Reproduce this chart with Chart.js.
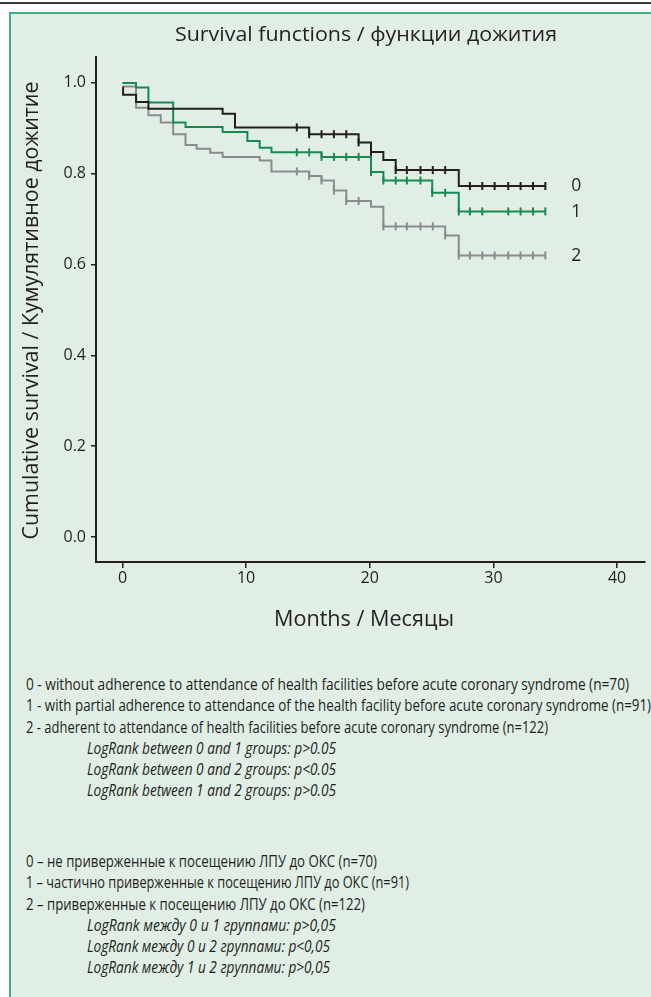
<!DOCTYPE html>
<html>
<head>
<meta charset="utf-8">
<script src="https://cdn.jsdelivr.net/npm/chart.js@4.4.1/dist/chart.umd.min.js"></script>
<style>
  html, body { margin: 0; padding: 0; background: #fff; width: 651px; height: 997px; overflow: hidden; }
  #rule { position: absolute; left: 0; top: 2px; width: 651px; height: 2px; background: #3a3a3a; }
  #panel { position: absolute; left: 9px; top: 12px; width: 670px; height: 1000px; box-sizing: border-box;
           border: 2px solid #41ae7d; background: #e1eee6; }
  #wrap { position: absolute; left: 0; top: 0; width: 651px; height: 640px; }
  .notes { position: absolute; left: 26px; font-family: 'Open Sans'; font-size: 16px; line-height: 21.3px;
           color: #231f20; white-space: nowrap; }
  .notes span { display: inline-block; transform-origin: 0 50%; }
  .notes .i { font-style: italic; padding-left: 61px; }
</style>
</head>
<body>
<div id="rule"></div>
<div id="panel"></div>
<div id="wrap"><canvas id="km" width="651" height="640"></canvas></div>

<div class="notes" style="top:674px">
  <div data-w="603"><span>0 - without adherence to attendance of health facilities before acute coronary syndrome (n=70)</span></div>
  <div data-w="625"><span>1 - with partial adherence to attendance of the health facility before acute coronary syndrome (n=91)</span></div>
  <div data-w="522"><span>2 - adherent to attendance of health facilities before acute coronary syndrome (n=122)</span></div>
  <div class="i" data-w="249"><span>LogRank between 0 and 1 groups: p&gt;0.05</span></div>
  <div class="i" data-w="249"><span>LogRank between 0 and 2 groups: p&lt;0.05</span></div>
  <div class="i" data-w="249"><span>LogRank between 1 and 2 groups: p&gt;0.05</span></div>
</div>
<div class="notes" style="top:851px">
  <div data-w="351"><span>0 – не приверженные к посещению ЛПУ до ОКС (n=70)</span></div>
  <div data-w="383"><span>1 – частично приверженные к посещению ЛПУ до ОКС (n=91)</span></div>
  <div data-w="339"><span>2 – приверженные к посещению ЛПУ до ОКС (n=122)</span></div>
  <div class="i" data-w="249"><span>LogRank между 0 и 1 группами: p&gt;0,05</span></div>
  <div class="i" data-w="243"><span>LogRank между 0 и 2 группами: p&lt;0,05</span></div>
  <div class="i" data-w="243"><span>LogRank между 1 и 2 группами: p&gt;0,05</span></div>
</div>

<script>
// group 0 - black
const months0 = [0, 0.05, 1.1, 2.1, 8.1, 9.1, 15.1, 19.1, 20.1, 21.1, 22.1, 27.2, 34.2];
const surv0   = [0.990, 0.974, 0.958, 0.943, 0.932, 0.902, 0.887, 0.869, 0.848, 0.830, 0.808, 0.773, 0.773];
const censor0 = [14.1, 15.1, 16.1, 17.1, 18.1, 19.1, 20.1, 22.1, 23.0, 24.1, 25.1, 26.1, 28.1, 29.1, 30.1, 31.2, 32.2, 33.2, 34.2];

// group 1 - green
const months1 = [0, 1.1, 2.1, 4.1, 5.1, 8.1, 10.1, 11.1, 12.05, 16.1, 20.1, 21.1, 25.05, 27.2, 34.2];
const surv1   = [1.000, 0.990, 0.957, 0.913, 0.903, 0.892, 0.872, 0.857, 0.847, 0.837, 0.804, 0.785, 0.758, 0.717, 0.717];
const censor1 = [14.1, 15.1, 16.1, 17.1, 18.1, 19.1, 20.1, 21.1, 22.1, 23.0, 24.1, 25.05, 26.1, 27.2, 28.1, 29.1, 31.2, 32.2, 33.2, 34.2];

// group 2 - grey
const months2 = [0, 1.1, 2.1, 3.1, 4.1, 5.1, 6.0, 7.1, 8.1, 11.1, 12.05, 15.1, 16.1, 17.1, 18.1, 20.1, 21.1, 26.1, 27.2, 34.2];
const surv2   = [0.992, 0.945, 0.929, 0.913, 0.887, 0.863, 0.855, 0.846, 0.837, 0.829, 0.805, 0.795, 0.785, 0.763, 0.740, 0.727, 0.684, 0.664, 0.620, 0.620];
const censor2 = [14.1, 15.1, 16.1, 17.1, 18.1, 19.1, 21.1, 22.1, 23.0, 24.1, 25.1, 26.1, 27.2, 28.1, 29.1, 30.1, 31.2, 32.2, 33.2, 34.2];

const groupNames = ['0', '1', '2'];
const xTicks = [0, 10, 20, 30, 40];
const yTicks = [0, 0.2, 0.4, 0.6, 0.8, 1.0];

const titleText = 'Survival functions / функции дожития';
const xTitle = 'Months / Месяцы';
const yTitle = 'Cumulative survival / Кумулятивное дожитие';

const INK = '#231f20';
const colors = ['#231f20', '#168a52', '#8b8b8d'];

function stepAt(times, vals, t) {
  let v = vals[0];
  for (let i = 0; i < times.length; i++) if (times[i] <= t + 1e-9) v = vals[i];
  return v;
}

const groups = [[months0, surv0, censor0], [months1, surv1, censor1], [months2, surv2, censor2]];
const datasets = [];
groups.forEach(([m, s, c], g) => {
  datasets.push({
    data: m.map((t, i) => ({ x: t, y: s[i] })),
    borderColor: colors[g], borderWidth: 2, stepped: true,
    pointRadius: 0, fill: false
  });
  datasets.push({
    data: c.map(t => ({ x: t, y: stepAt(m, s, t) })),
    showLine: false, pointStyle: 'line', rotation: 90,
    pointRadius: 4, pointBorderWidth: 2, borderColor: colors[g], backgroundColor: colors[g]
  });
});

function fitText(ctx, s, x, y, size, w) {
  ctx.font = size + 'px "Open Sans"';
  const k = w / ctx.measureText(s).width;
  ctx.save();
  ctx.translate(x, y);
  ctx.scale(k, 1);
  ctx.fillText(s, 0, 0);
  ctx.restore();
}

const textPlugin = {
  id: 'texts',
  afterDraw(chart) {
    const { ctx, chartArea, scales } = chart;
    ctx.save();
    ctx.fillStyle = INK;
    ctx.textAlign = 'center';
    ctx.textBaseline = 'middle';
    fitText(ctx, titleText, 366, 35, 20, 382);
    fitText(ctx, xTitle, 364, 620, 21, 180);
    groups.forEach(([m, s], g) => {
      const px = scales.x.getPixelForValue(m[m.length - 1]) + 31;
      const py = scales.y.getPixelForValue(s[s.length - 1]);
      fitText(ctx, groupNames[g], px, py, 19, 10);
    });
    ctx.translate(32, (chartArea.top + chartArea.bottom) / 2 + 1);
    ctx.rotate(-Math.PI / 2);
    fitText(ctx, yTitle, 0, 0, 21, 458);
    ctx.restore();
  }
};

new Chart(document.getElementById('km'), {
  type: 'line',
  data: { datasets },
  options: {
    responsive: false, animation: false, devicePixelRatio: 1,
    layout: { padding: { top: 57, left: 0, right: 0, bottom: 0 } },
    plugins: { legend: { display: false }, tooltip: { enabled: false } },
    scales: {
      x: {
        type: 'linear', min: -2.14, max: 42.26,
        afterFit: s => { s.height = 78; },
        afterBuildTicks: s => { s.ticks = xTicks.map(v => ({ value: v })); },
        border: { display: true, color: INK, width: 2 },
        grid: { drawOnChartArea: false, drawTicks: true, tickLength: 6, color: INK, lineWidth: 1.5 },
        ticks: { color: INK, font: { family: 'Open Sans', size: 16 }, padding: 1, maxRotation: 0 }
      },
      y: {
        type: 'linear', min: -0.055, max: 1.057,
        afterFit: s => { s.width = 96; },
        afterBuildTicks: s => { s.ticks = yTicks.map(v => ({ value: v })); },
        border: { display: true, color: INK, width: 2 },
        grid: { drawOnChartArea: false, drawTicks: true, tickLength: 5, color: INK, lineWidth: 1.5 },
        ticks: { color: INK, font: { family: 'Open Sans', size: 16 }, padding: 5,
                 callback: v => v.toFixed(1) }
      }
    }
  },
  plugins: [textPlugin]
});

// squeeze each note line to the width it has in the reference
document.querySelectorAll('.notes div').forEach(d => {
  const span = d.querySelector('span');
  const k = Number(d.dataset.w) / span.getBoundingClientRect().width;
  span.style.transform = 'scaleX(' + k + ')';
});
</script>
</body>
</html>
